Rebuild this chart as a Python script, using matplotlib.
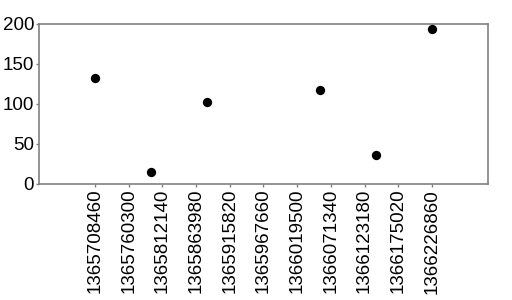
import matplotlib
matplotlib.use("Agg")
import matplotlib.pyplot as plt
import numpy as np

plt.rcParams['font.family'] = ['Liberation Sans', 'DejaVu Sans']

timestamps = [1365708460, 1365794860, 1365881260, 1366054060, 1366140460, 1366226860]
values = [132, 15, 102, 117, 36, 194]
tick_start = 1365708460
tick_step = 51840
n_ticks = 11
tick_positions = [tick_start + i * tick_step for i in range(n_ticks)]
tick_labels = [str(t) for t in tick_positions]
y_ticks = [0, 50, 100, 150, 200]

fig = plt.figure(figsize=(5.12, 3.0), dpi=100)
ax = fig.add_axes([39/512, 1 - 184/300, (488-39)/512, (184-24)/300])
ax.scatter(timestamps, values, s=45, color='black', zorder=3, linewidths=0)
ax.set_xlim(timestamps[0] - 86400, timestamps[-1] + 86400)
ax.set_ylim(0, 200)
ax.set_xticks(tick_positions)
ax.set_xticklabels(tick_labels, rotation=90, fontsize=13.5)
ax.set_yticks(y_ticks)
ax.set_yticklabels([str(v) for v in y_ticks], fontsize=13.5)
for s in ax.spines.values():
    s.set_color('#808080')
    s.set_linewidth(1.2)
ax.tick_params(axis='both', length=2.5, width=1, color='#808080', pad=1, labelcolor='black')
fig.savefig('out.png', dpi=100)
